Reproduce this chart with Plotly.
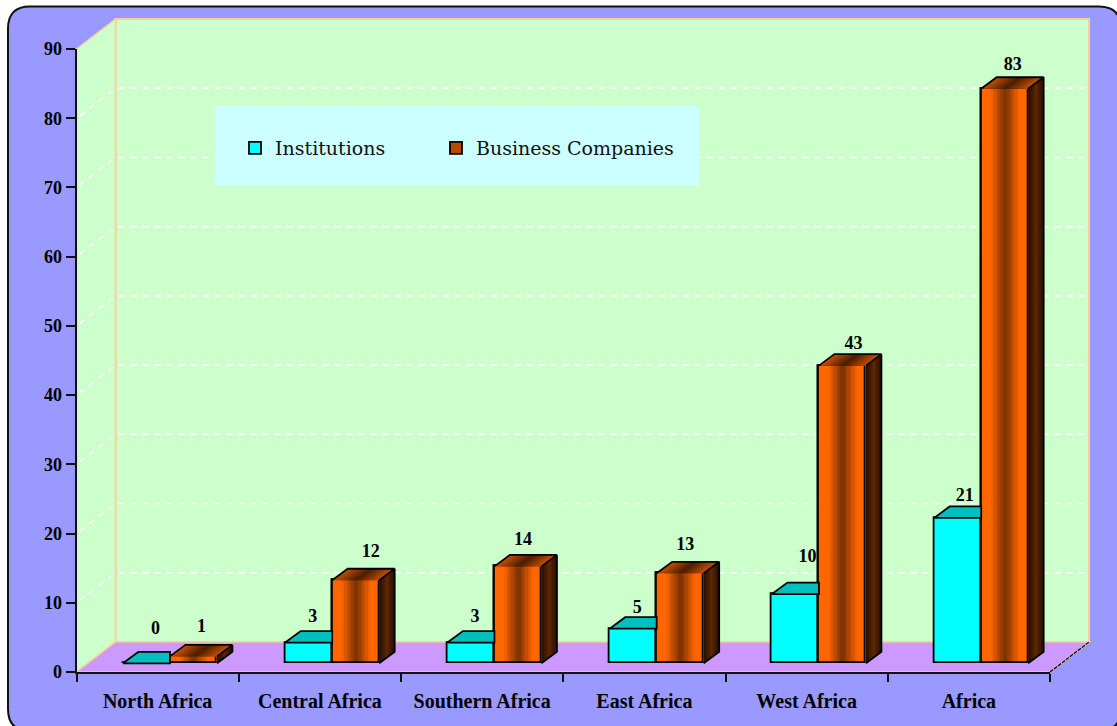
import plotly.graph_objects as go

# ---- data ----
categories = ["North Africa", "Central Africa", "Southern Africa", "East Africa", "West Africa", "Africa"]
institutions = [0, 3, 3, 5, 10, 21]
business = [1, 12, 14, 13, 43, 83]
y_ticks = [0, 10, 20, 30, 40, 50, 60, 70, 80, 90]

# ---- figure geometry (pixels) ----
W, H = 1117, 726
AX_L, AX_R, AX_B, AX_T = 76.5, 1050.0, 672.0, 49.0
WALL_DX, WALL_DY = 39.0, 30.0
CAT_PX = (AX_R - AX_L) / len(categories)
UNIT_PX = (AX_B - AX_T) / 90.0

def px(x): return x / W
def py(y): return 1 - y / H

BAR_W = 47.0 / CAT_PX
GROUP_SHIFT = 12.3 / CAT_PX
BASE = 8.7 / UNIT_PX
DEPTH_X = 15.5 / CAT_PX
DEPTH_Y = 11.5 / UNIT_PX

inst_x = [i + GROUP_SHIFT - BAR_W / 2 for i in range(len(categories))]
bus_x = [i + GROUP_SHIFT + BAR_W / 2 for i in range(len(categories))]

# label nudges from the top-centre of each bar, in pixels
inst_lab_dx = [9, 4, 4, 4, 12, 7]
inst_lab_dy = [34, 25, 25, 20, 37, 21]
bus_lab_dx = [8, 15, 5, 5, 11, 8]
bus_lab_dy = [29, 28, 26, 28, 21, 23]

PANEL, WALL, FLOOR, PEACH = "#9999ff", "#ccffcc", "#cc99ff", "#ffcc99"
CYAN, TEAL, ORANGE = "#00ffff", "#00bfbf", "#ff6600"

def mix(a, b, t):
    ca = [int(a[i:i + 2], 16) for i in (1, 3, 5)]
    cb = [int(b[i:i + 2], 16) for i in (1, 3, 5)]
    return "rgb(%d,%d,%d)" % tuple(round(p + (q - p) * t) for p, q in zip(ca, cb))

def front_col(t):
    d = abs(t - 0.5) * 2
    return mix("#773000", ORANGE, min(1, d / 0.62))

def top_col(t):
    d = abs(t - 0.5) * 2
    return mix("#4a1e00", "#c85000", min(1, d))

def side_col(t):
    d = abs(t - 0.5) * 2
    return mix("#5e2700", "#240e00", min(1, d))

STRIPS = 20
SIDE_STRIPS = 7
fig = go.Figure()

# cyan bars
fig.add_bar(name="Institutions", x=inst_x, y=institutions, base=BASE, width=BAR_W, legendwidth=156,
            marker=dict(color=CYAN, line=dict(color="black", width=1.8)), showlegend=True)

# cyan tops, ending where the orange bar starts
xs, ys = [], []
for xc, v in zip(inst_x, institutions):
    l, r, t = xc - BAR_W / 2, xc + BAR_W / 2, BASE + v
    xs += [l, r, r, l + DEPTH_X, l, None]
    ys += [t, t, t + DEPTH_Y, t + DEPTH_Y, t, None]
fig.add_scatter(x=xs, y=ys, mode="lines", fill="toself", fillcolor=TEAL,
                line=dict(color="black", width=1.8), showlegend=False, hoverinfo="skip")

# orange bars with legend entry
fig.add_bar(name="Business Companies", x=bus_x, y=business, base=BASE, width=BAR_W, legendwidth=240,
            marker=dict(color="#b84a00", line=dict(color="black", width=1.8)), showlegend=True)

# gradient strips on the front faces
sw = BAR_W / STRIPS
for k in range(STRIPS):
    t = (k + 0.5) / STRIPS
    fig.add_bar(x=[xc - BAR_W / 2 + t * BAR_W for xc in bus_x], y=business, base=BASE,
                width=sw * 1.15, marker=dict(color=front_col(t), line=dict(width=0)),
                showlegend=False, hoverinfo="skip")

# gradient strips on the tops
for k in range(STRIPS):
    t0, t1 = k / STRIPS, min(1, (k + 2) / STRIPS)
    tm = (k + 0.5) / STRIPS
    xs, ys = [], []
    for xc, v in zip(bus_x, business):
        l, w, t = xc - BAR_W / 2, BAR_W, BASE + v
        a, b = l + t0 * w, l + t1 * w
        xs += [a, b, b + DEPTH_X, a + DEPTH_X, a, None]
        ys += [t, t, t + DEPTH_Y, t + DEPTH_Y, t, None]
    fig.add_scatter(x=xs, y=ys, mode="none", fill="toself", fillcolor=top_col(tm),
                    showlegend=False, hoverinfo="skip")

# gradient strips on the sides
for k in range(SIDE_STRIPS):
    t0, t1 = k / SIDE_STRIPS, 1.0
    tm = (k + 0.5) / SIDE_STRIPS
    xs, ys = [], []
    for xc, v in zip(bus_x, business):
        r, t = xc + BAR_W / 2, BASE + v
        a0, a1 = r + t0 * DEPTH_X, r + t1 * DEPTH_X
        b0, b1 = t0 * DEPTH_Y, t1 * DEPTH_Y
        xs += [a0, a1, a1, a0, a0, None]
        ys += [BASE + b0, BASE + b1, t + b1, t + b0, BASE + b0, None]
    fig.add_scatter(x=xs, y=ys, mode="none", fill="toself", fillcolor=side_col(tm),
                    showlegend=False, hoverinfo="skip")

# outlines of the orange boxes
fig.add_bar(x=bus_x, y=business, base=BASE, width=BAR_W,
            marker=dict(color="rgba(0,0,0,0)", line=dict(color="black", width=1.8)),
            showlegend=False, hoverinfo="skip")
xs, ys = [], []
for xc, v in zip(bus_x, business):
    l, r, t = xc - BAR_W / 2, xc + BAR_W / 2, BASE + v
    xs += [l, l + DEPTH_X, r + DEPTH_X, r, None, r + DEPTH_X, r + DEPTH_X, r, None]
    ys += [t, t + DEPTH_Y, t + DEPTH_Y, t, None, t + DEPTH_Y, BASE + DEPTH_Y, BASE, None]
fig.add_scatter(x=xs, y=ys, mode="lines", line=dict(color="black", width=1.8),
                showlegend=False, hoverinfo="skip")

# value labels
lab_font = dict(family="Liberation Serif", size=18, color="black")
fig.add_scatter(
    x=[xc + d / CAT_PX for xc, d in zip(inst_x, inst_lab_dx)],
    y=[BASE + v + d / UNIT_PX for v, d in zip(institutions, inst_lab_dy)],
    mode="text", text=[f"<b>{v}</b>" for v in institutions], textfont=lab_font,
    textposition="middle center", showlegend=False, hoverinfo="skip")
fig.add_scatter(
    x=[xc + d / CAT_PX for xc, d in zip(bus_x, bus_lab_dx)],
    y=[BASE + v + d / UNIT_PX for v, d in zip(business, bus_lab_dy)],
    mode="text", text=[f"<b>{v}</b>" for v in business], textfont=lab_font,
    textposition="middle center", showlegend=False, hoverinfo="skip")

# ---- background panel, walls, floor, grid ----
def poly(points):
    return "M" + " L".join(f"{px(x):.5f},{py(y):.5f}" for x, y in points) + " Z"

shapes = []
P_L, P_T, P_R, P_B, RAD = 8.0, 6.5, 1121.0, 731.0, 22.0
panel_path = (
    f"M{px(P_L + RAD)},{py(P_T)} L{px(P_R - RAD)},{py(P_T)} "
    f"Q{px(P_R)},{py(P_T)} {px(P_R)},{py(P_T + RAD)} L{px(P_R)},{py(P_B - RAD)} "
    f"Q{px(P_R)},{py(P_B)} {px(P_R - RAD)},{py(P_B)} L{px(P_L + RAD)},{py(P_B)} "
    f"Q{px(P_L)},{py(P_B)} {px(P_L)},{py(P_B - RAD)} L{px(P_L)},{py(P_T + RAD)} "
    f"Q{px(P_L)},{py(P_T)} {px(P_L + RAD)},{py(P_T)} Z"
)
below = dict(xref="paper", yref="paper", layer="below")
shapes.append(dict(type="path", path=panel_path, fillcolor=PANEL,
                   line=dict(color="#111111", width=2), **below))
BL, BR, BT, BB = AX_L + WALL_DX, AX_R + WALL_DX, AX_T - WALL_DY, AX_B - WALL_DY
shapes.append(dict(type="path", path=poly([(BL, BT), (BR, BT), (BR, BB), (BL, BB)]),
                   fillcolor=WALL, line=dict(color=PEACH, width=2), **below))
shapes.append(dict(type="path", path=poly([(AX_L, AX_T), (BL, BT), (BL, BB), (AX_L, AX_B)]),
                   fillcolor=WALL, line=dict(color=PEACH, width=1.5), **below))
shapes.append(dict(type="path", path=poly([(AX_L, AX_B), (BL, BB), (BR, BB), (AX_R, AX_B)]),
                   fillcolor=FLOOR, line=dict(color=PEACH, width=1.5), **below))
shapes.append(dict(type="line", x0=px(AX_R), y0=py(AX_B), x1=px(BR), y1=py(BB),
                   line=dict(color="black", width=1.2, dash="4px,1px"), **below))
grid = dict(color="white", width=1.5, dash="6px,6px")
for v in y_ticks[1:-1]:
    y = AX_B - v * UNIT_PX
    shapes.append(dict(type="line", x0=px(BL + 3), x1=px(BR - 4), y0=py(y - WALL_DY), y1=py(y - WALL_DY),
                       line=grid, **below))
    shapes.append(dict(type="line", x0=px(AX_L + 3), x1=px(BL - 4),
                       y0=py(y - 3 * WALL_DY / WALL_DX), y1=py(y - (WALL_DX - 4) * WALL_DY / WALL_DX),
                       line=grid, **below))
shapes.append(dict(type="rect", x0=px(215), x1=px(699), y0=py(186), y1=py(106),
                   fillcolor="#ccffff", line=dict(width=0), **below))

fig.update_layout(
    width=W, height=H, margin=dict(l=0, r=0, t=0, b=0, pad=0, autoexpand=False),
    paper_bgcolor="white", plot_bgcolor="rgba(0,0,0,0)",
    barmode="overlay", bargap=0, shapes=shapes,
    hovermode=False,
    legend=dict(
        orientation="h", x=px(235), y=py(148), xanchor="left", yanchor="middle",
        bgcolor="rgba(0,0,0,0)", borderwidth=0,
        font=dict(family="DejaVu Serif", size=19, color="#111111"),
        itemclick=False, itemdoubleclick=False,
    ),
    xaxis=dict(
        domain=[px(AX_L), px(AX_R)], range=[-0.5, len(categories) - 0.5],
        tickmode="array", tickvals=list(range(len(categories))),
        ticktext=[f"<b>{c}</b>" for c in categories],
        tickfont=dict(family="Liberation Serif", size=20, color="black"),
        ticks="", ticklabelstandoff=10, showgrid=False, zeroline=False,
        showline=True, linecolor="#111111", linewidth=2,
        minor=dict(tickmode="array", tickvals=[i - 0.5 for i in range(len(categories) + 1)],
                   ticks="outside", ticklen=8, tickwidth=1.5, tickcolor="#111111", showgrid=False),
    ),
    yaxis=dict(
        domain=[py(AX_B), py(AX_T)], range=[0, 90],
        tickmode="array", tickvals=y_ticks, ticktext=[f"<b>{v}</b>" for v in y_ticks],
        tickfont=dict(family="Liberation Serif", size=18, color="black"),
        ticks="outside", ticklen=9, tickwidth=1.5, tickcolor="#111111",
        showgrid=False, zeroline=False, showline=True, linecolor="#111111", linewidth=2,
    ),
)

fig.write_html("out.html", config={"displayModeBar": False},
               post_script="document.body.style.margin='0';document.documentElement.style.overflow='hidden';")
